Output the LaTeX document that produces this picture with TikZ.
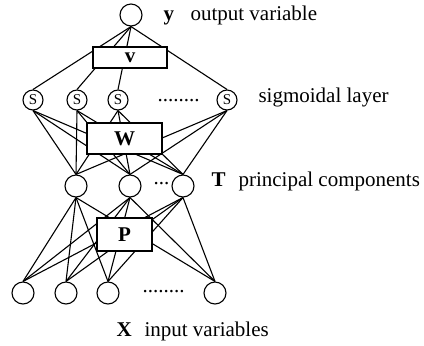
\documentclass[tikz,border=0pt]{standalone}
\usepackage{fontspec}
\setmainfont{Liberation Serif}
\begin{document}
\begin{tikzpicture}[x=0.5pt,y=-0.5pt,line width=0.55pt,
  font=\fontsize{10.5}{12}\selectfont,
  neuron/.style={draw,circle,inner sep=0pt,minimum size=11pt},
  sneuron/.style={draw,circle,inner sep=0pt,minimum size=10pt,font=\fontsize{7.5}{8}\selectfont},
  wbox/.style={draw,fill=white,font=\fontsize{10.5}{12}\selectfont\bfseries,inner sep=0pt},
  lab/.style={inner sep=0pt,anchor=base west},
  blab/.style={lab,font=\fontsize{10.5}{12}\selectfont\bfseries}]
\useasboundingbox (0,0) rectangle (424,345);
% output
\node[neuron] (y) at (131,15) {};
% sigmoidal layer
\node[sneuron] (s1) at (33,100) {S};
\node[sneuron] (s2) at (77,100) {S};
\node[sneuron] (s3) at (118,100) {S};
\node[sneuron] (s4) at (227,100) {S};
% principal components
\node[neuron] (t1) at (76,186) {};
\node[neuron] (t2) at (130,186) {};
\node[neuron] (t3) at (183,186) {};
% inputs
\node[neuron] (x1) at (23,293) {};
\node[neuron] (x2) at (66,293) {};
\node[neuron] (x3) at (108,293) {};
\node[neuron] (x4) at (215,293) {};
% connections
\foreach \i in {1,...,4} \draw (y.south) -- (s\i.north);
\foreach \i in {1,...,4} \foreach \j in {1,2,3} \draw (s\i.south) -- (t\j.north);
\foreach \j in {1,2,3} \foreach \k in {1,...,4} \draw (t\j.south) -- (x\k.north);
% weight boxes
\node[wbox,minimum width=37pt,minimum height=10.5pt] (v) at (130,57.5) {v};
\node[wbox,minimum width=37.5pt,minimum height=15.5pt] (W) at (124.5,138.5) {W};
\node[wbox,minimum width=27.5pt,minimum height=16.5pt] (P) at (124.5,234.5) {P};
% dots
\node[lab] (sdots) at (157,101) {........};
\node[lab] (tdots) at (153,184) {...};
\node[lab] (xdots) at (142,292) {........};
% labels
\node[blab] (ylab) at (163,20) {y};
\node[lab] (ytext) at (190,20) {output variable};
\node[lab] (stext) at (258,102) {sigmoidal layer};
\node[blab] (tlab) at (211,186) {T};
\node[lab] (ttext) at (238,186) {principal components};
\node[blab] (xlab) at (116,336) {X};
\node[lab] (xtext) at (144,336) {input variables};
\end{tikzpicture}
\end{document}
